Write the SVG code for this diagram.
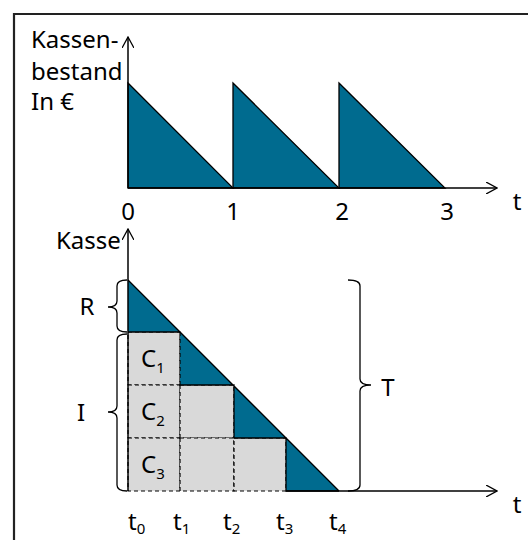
<svg xmlns="http://www.w3.org/2000/svg" width="528" height="540" viewBox="0 0 528 540">
<style>
text{font-family:"Noto Sans","Open Sans","DejaVu Sans",sans-serif;font-size:24px;fill:#000}
.sub{font-size:15px}
.ax{stroke:#000;stroke-width:1.5;fill:none}
.tri{fill:#006B8F;stroke:#000;stroke-width:1.3}
.teal{fill:#006B8F;stroke:none}
.cell{fill:#D9D9D9;stroke:#000;stroke-width:1.2;stroke-dasharray:4 3}
.sol{stroke:#000;stroke-width:1.3;fill:none}
.br{stroke:#000;stroke-width:1.3;fill:none}
</style>
<defs>
<marker id="ah" viewBox="0 0 12 12" refX="11" refY="6" markerWidth="12" markerHeight="12" markerUnits="userSpaceOnUse" orient="auto">
<path d="M0,0 L11,6 L0,12" fill="none" stroke="#000" stroke-width="1.3"/>
</marker>
</defs>
<rect x="0" y="0" width="528" height="540" fill="#fff"/>
<path d="M14,545 V14 H535" fill="none" stroke="#222" stroke-width="2.2"/>

<g id="top-chart">
<polygon class="tri" points="128,83 233,188 128,188"/>
<polygon class="tri" points="233,83 339,188 233,188"/>
<polygon class="tri" points="339,83 445,188 339,188"/>
<line class="ax" x1="128" y1="188" x2="497" y2="188" marker-end="url(#ah)"/>
<line class="ax" x1="128" y1="188" x2="128" y2="37" marker-end="url(#ah)"/>
<text x="31" y="48">Kassen-</text>
<text x="31" y="80">bestand</text>
<text x="31" y="110">In €</text>
<text x="128" y="220" text-anchor="middle">0</text>
<text x="233" y="220" text-anchor="middle">1</text>
<text x="342" y="220" text-anchor="middle">2</text>
<text x="447" y="220" text-anchor="middle">3</text>
<text x="517" y="210" text-anchor="middle">t</text>
</g>

<g id="bottom-chart">
<rect class="cell" x="128" y="332" width="52" height="53"/>
<rect class="cell" x="128" y="385" width="52" height="53"/>
<rect class="cell" x="128" y="438" width="52" height="53"/>
<rect class="cell" x="180" y="385" width="54" height="53"/>
<rect class="cell" x="180" y="438" width="54" height="53"/>
<rect class="cell" x="234" y="438" width="52" height="53"/>
<polygon class="teal" points="128,280 339,491 286,491 286,438 234,438 234,385 180,385 180,332 128,332"/>
<path class="sol" d="M128,280 L339,491 M128,332 H180 M180,385 H234 V438 H286 V491 H339"/>
<line class="cell" x1="180" y1="332" x2="180" y2="385"/>
<line class="ax" x1="286" y1="491" x2="497" y2="491" marker-end="url(#ah)"/>
<line class="ax" x1="128" y1="491" x2="128" y2="229" marker-end="url(#ah)"/>
<text x="56" y="249">Kasse</text>
<text x="517" y="513" text-anchor="middle">t</text>
<text x="141" y="367">C<tspan class="sub" dy="6">1</tspan></text>
<text x="141" y="420">C<tspan class="sub" dy="6">2</tspan></text>
<text x="141" y="473">C<tspan class="sub" dy="6">3</tspan></text>
<text x="128" y="530">t<tspan class="sub" dy="4">0</tspan></text>
<text x="173" y="530">t<tspan class="sub" dy="4">1</tspan></text>
<text x="223" y="530">t<tspan class="sub" dy="4">2</tspan></text>
<text x="276" y="530">t<tspan class="sub" dy="4">3</tspan></text>
<text x="329" y="530">t<tspan class="sub" dy="4">4</tspan></text>
</g>

<g id="brace-R">
<path class="br" d="M127,280 Q117,280 117,286 L117,301 Q117,307 108,307 Q117,307 117,313 L117,326 Q117,332 127,332"/>
<text x="87" y="315" text-anchor="middle">R</text>
</g>
<g id="brace-I">
<path class="br" d="M127,334 Q117,334 117,340 L117,406 Q117,412 108,412 Q117,412 117,418 L117,485 Q117,491 127,491"/>
<text x="81" y="421" text-anchor="middle">I</text>
</g>
<g id="brace-T">
<path class="br" d="M348,280 Q360,280 360,286 L360,379 Q360,385 371,385 Q360,385 360,391 L360,485 Q360,491 348,491"/>
<text x="388" y="396" text-anchor="middle">T</text>
</g>
</svg>
